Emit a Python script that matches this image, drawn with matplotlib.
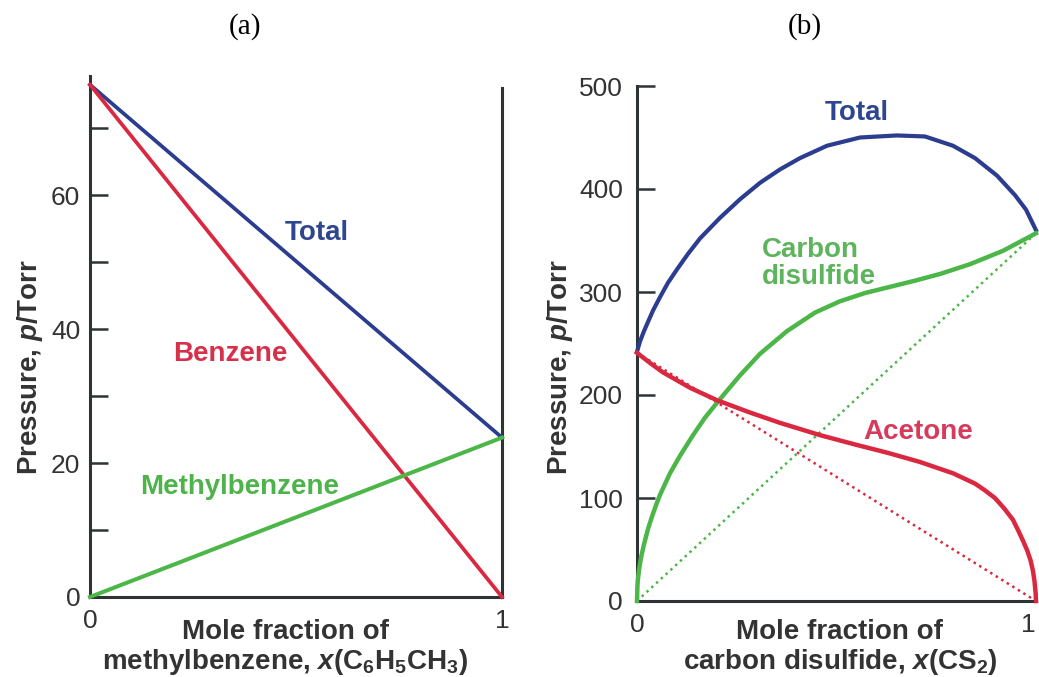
import matplotlib
matplotlib.use("Agg")
import matplotlib.pyplot as plt
import numpy as np

plt.rcParams['font.family'] = ['Liberation Sans', 'DejaVu Sans']
plt.rcParams['mathtext.fontset'] = 'custom'
plt.rcParams['mathtext.rm'] = 'Liberation Sans:bold'
plt.rcParams['mathtext.it'] = 'Liberation Sans:bold:italic'
plt.rcParams['mathtext.bf'] = 'Liberation Sans:bold'

# ---------------- data: panel (a) benzene / methylbenzene ----------------
a_x = [0.0, 1.0]
a_benzene = [76.5, 0.0]
a_methylbenzene = [0.0, 23.8]
a_total = [76.5, 23.8]
a_major_ticks = [0, 20, 40, 60]
a_minor_ticks = [10, 30, 50, 70]

# ---------------- data: panel (b) acetone / carbon disulfide ----------------
b_total_x = [0, .0075, .0175, .0276, .0401, .0576, .0777, .1003, .1278, .1579,
             .2080, .2581, .3083, .3584, .4085, .4762, .5589, .6516, .7218,
             .7920, .8471, .9023, .9474, .9749, 1.0]
b_total = [242, 252, 262, 271, 282, 295, 309, 322, 337, 352,
           372, 390, 406, 419, 430, 442, 450, 452, 451,
           442, 430, 413, 394, 380, 360]

b_cs2_x = [0, .001, .002, .005, .010, .0175, .0276, .0376, .0476, .0576,
           .0827, .1078, .1404, .1704, .2080, .2581, .3083, .3759, .4461,
           .5088, .5714, .6341, .6967, .7594, .8346, .9173, 1.0]
b_cs2 = [0, 14, 20, 30, 42, 55, 70, 82, 93, 103,
         124, 141, 161, 178, 196, 219, 240, 262, 280,
         291, 299, 305, 311, 317.5, 327, 340, 357]

b_acetone_x = [0, .033, .065, .133, .2, .283, .358, .459, .546, .627, .709,
               .792, .847, .870, .897, .920, .942, .956, .968, .978, .986,
               .992, .996, .999, 1.0]
b_acetone = [241, 231, 222, 207, 195, 183, 173, 161, 152, 144, 135,
             124, 114, 108, 100, 90, 79, 68, 58, 49, 40,
             30, 20, 8, 0]

b_ideal_x = [0.0, 1.0]
b_ideal_acetone = [241, 0]
b_ideal_cs2 = [0, 357]
b_ticks = [0, 100, 200, 300, 400, 500]

BLUE = '#2c3d8f'
RED = '#d9283f'
GREEN = '#4cb748'
SPINE = '#2e3335'
TXT = '#333333'

W, H = 1039, 677
fig = plt.figure(figsize=(W / 100, H / 100), dpi=100)


def rect(l, r, b, t):
    return [l / W, 1 - b / H, (r - l) / W, (b - t) / H]


def style(ax):
    for s in ['top', 'right']:
        ax.spines[s].set_visible(False)
    for s in ['left', 'bottom']:
        ax.spines[s].set_linewidth(2.2)
        ax.spines[s].set_color(SPINE)
    ax.tick_params(axis='y', which='both', direction='in', length=13, width=1.8,
                   color=SPINE, labelsize=19, labelcolor=TXT, pad=7)
    ax.tick_params(axis='x', which='both', length=0, labelsize=19,
                   labelcolor=TXT, pad=9)
    ax.set_xlim(0, 1)
    ax.set_xticks([0, 1])
    ax.set_xticklabels(['0', '1'])


# ---------------- panel (a) ----------------
axA = fig.add_axes(rect(90, 502, 597, 76))
style(axA)
axA.spines['right'].set_visible(True)
axA.spines['right'].set_linewidth(2.2)
axA.spines['right'].set_color(SPINE)
axA.spines['right'].set_bounds(0, 76.0)
axA.set_ylim(0, 77.8)
axA.set_yticks(a_major_ticks)
axA.set_yticklabels([str(t) for t in a_major_ticks])
axA.set_yticks(a_minor_ticks, minor=True)

axA.plot(a_x, a_total, color=BLUE, lw=2.7, clip_on=False, zorder=3)
axA.plot(a_x, a_benzene, color=RED, lw=2.7, clip_on=False, zorder=3)
axA.plot(a_x, a_methylbenzene, color=GREEN, lw=2.9, clip_on=False, zorder=3)

fig.text(285 / W, 1 - 233 / H, 'Total', color='#2e4590', fontsize=20,
         fontweight='bold', ha='left', va='center')
fig.text(173 / W, 1 - 354 / H, 'Benzene', color='#d7304a', fontsize=20,
         fontweight='bold', ha='left', va='center')
fig.text(140 / W, 1 - 487 / H, 'Methylbenzene', color='#4db34a', fontsize=20,
         fontweight='bold', ha='left', va='center')

fig.text(30 / W, 1 - 367 / H, 'Pressure, $p$/Torr', rotation=90, fontsize=20,
         fontweight='bold', color=TXT, ha='center', va='center')
fig.text(285 / W, 1 - 648 / H,
         'Mole fraction of\nmethylbenzene, $x$(C$_6$H$_5$CH$_3$)',
         fontsize=20, fontweight='bold', color=TXT, ha='center', va='center',
         linespacing=1.05)

# ---------------- panel (b) ----------------
axB = fig.add_axes(rect(637, 1036, 601, 86))
style(axB)
axB.tick_params(axis='y', pad=10)
axB.set_ylim(0, 500)
axB.set_yticks(b_ticks)
axB.set_yticklabels([str(t) for t in b_ticks])
axB.get_xticklabels()[1].set_horizontalalignment('right')
axB.get_xticklabels()[1].set_x(1.0)

axB.plot(b_ideal_x, b_ideal_acetone, color=RED, lw=1.8, ls=(0, (1, 1.6)),
         clip_on=False, zorder=2)
axB.plot(b_ideal_x, b_ideal_cs2, color=GREEN, lw=1.8, ls=(0, (1, 1.6)),
         clip_on=False, zorder=2)
axB.plot(b_total_x, b_total, color=BLUE, lw=3.0, clip_on=False, zorder=3,
         solid_joinstyle='round')
axB.plot(b_cs2_x, b_cs2, color=GREEN, lw=3.2, clip_on=False, zorder=3,
         solid_joinstyle='round')
axB.plot(b_acetone_x, b_acetone, color=RED, lw=3.2, clip_on=False, zorder=3,
         solid_joinstyle='round')

fig.text(857 / W, 1 - 113 / H, 'Total', color='#2e4590', fontsize=20,
         fontweight='bold', ha='center', va='center')
fig.text(762 / W, 1 - 263 / H, 'Carbon\ndisulfide', color='#5db45c',
         fontsize=20, fontweight='bold', ha='left', va='center',
         linespacing=1.05)
fig.text(863 / W, 1 - 432 / H, 'Acetone', color='#d73a5a', fontsize=20,
         fontweight='bold', ha='left', va='center')

fig.text(560 / W, 1 - 367 / H, 'Pressure, $p$/Torr', rotation=90, fontsize=20,
         fontweight='bold', color=TXT, ha='center', va='center')
fig.text(840 / W, 1 - 648 / H,
         'Mole fraction of\ncarbon disulfide, $x$(CS$_2$)',
         fontsize=20, fontweight='bold', color=TXT, ha='center', va='center',
         linespacing=1.05)

fig.text(245 / W, 1 - 27 / H, '(a)', fontsize=21, family='Liberation Serif',
         color='black', ha='center', va='center')
fig.text(805 / W, 1 - 27 / H, '(b)', fontsize=21, family='Liberation Serif',
         color='black', ha='center', va='center')

fig.savefig('out.png', dpi=100)
